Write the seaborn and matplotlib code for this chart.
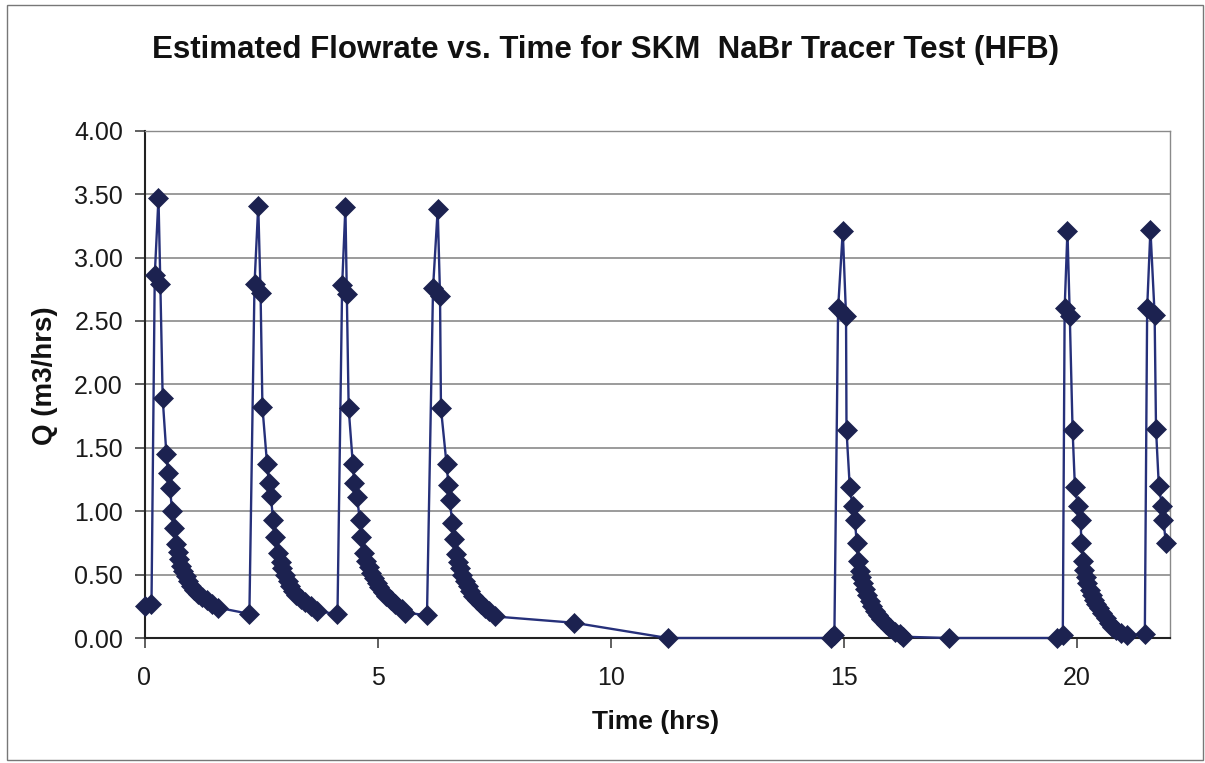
import numpy as np
import pandas as pd
import matplotlib
matplotlib.use("Agg")
import matplotlib.pyplot as plt
from matplotlib.patches import Rectangle
import seaborn as sns

# ---- data ----
pulse1_t = [0.00, 0.15, 0.22, 0.30, 0.34, 0.39, 0.47, 0.51, 0.55, 0.59, 0.63, 0.67, 0.71,
            0.75, 0.79, 0.83, 0.88, 0.94, 1.00, 1.07, 1.15, 1.24, 1.34, 1.45, 1.57]
pulse1_q = [0.25, 0.27, 2.86, 3.47, 2.79, 1.89, 1.45, 1.30, 1.18, 1.00, 0.87, 0.74, 0.68,
            0.62, 0.57, 0.53, 0.49, 0.45, 0.41, 0.38, 0.35, 0.32, 0.30, 0.27, 0.24]

pulse2_t = [2.25, 2.36, 2.44, 2.49, 2.53, 2.63, 2.67, 2.71, 2.76, 2.80, 2.87, 2.92, 2.96,
            3.01, 3.07, 3.13, 3.19, 3.26, 3.35, 3.45, 3.57, 3.70]
pulse2_q = [0.19, 2.79, 3.41, 2.72, 1.82, 1.37, 1.22, 1.12, 0.93, 0.80, 0.67, 0.60, 0.55,
            0.50, 0.45, 0.41, 0.37, 0.34, 0.31, 0.28, 0.25, 0.21]

pulse3_t = [4.14, 4.24, 4.31, 4.34, 4.38, 4.47, 4.50, 4.56, 4.62, 4.65, 4.71, 4.76, 4.81,
            4.86, 4.92, 4.98, 5.04, 5.11, 5.19, 5.28, 5.38, 5.52, 5.58]
pulse3_q = [0.19, 2.78, 3.40, 2.71, 1.81, 1.37, 1.22, 1.11, 0.93, 0.80, 0.67, 0.61, 0.56,
            0.51, 0.47, 0.43, 0.40, 0.36, 0.33, 0.30, 0.27, 0.23, 0.20]

pulse4_t = [6.06, 6.19, 6.29, 6.34, 6.36, 6.48, 6.52, 6.55, 6.60, 6.64, 6.69, 6.73, 6.77,
            6.82, 6.87, 6.93, 6.99, 7.05, 7.13, 7.21, 7.30, 7.40, 7.51, 9.22, 11.22, 14.72]
pulse4_q = [0.18, 2.76, 3.38, 2.70, 1.81, 1.37, 1.21, 1.09, 0.91, 0.78, 0.66, 0.60, 0.55,
            0.50, 0.45, 0.41, 0.37, 0.33, 0.30, 0.27, 0.24, 0.21, 0.17, 0.12, 0.00, 0.00]

pulse5_t = [14.80, 14.88, 14.98, 15.05, 15.06, 15.13, 15.19, 15.24, 15.28, 15.31, 15.35,
            15.38, 15.42, 15.45, 15.50, 15.56, 15.61, 15.67, 15.74, 15.81, 15.90, 15.99,
            16.10, 16.20, 16.28, 17.25, 19.58]
pulse5_q = [0.02, 2.60, 3.21, 2.54, 1.64, 1.19, 1.04, 0.93, 0.75, 0.61, 0.53,
            0.48, 0.43, 0.39, 0.34, 0.29, 0.25, 0.21, 0.18, 0.15, 0.11, 0.08,
            0.05, 0.03, 0.01, 0.00, 0.00]

pulse6_t = [19.70, 19.74, 19.80, 19.85, 19.91, 19.96, 20.03, 20.08, 20.10, 20.13, 20.16,
            20.19, 20.23, 20.28, 20.32, 20.37, 20.42, 20.47, 20.54, 20.62, 20.69, 20.76,
            20.85, 20.94, 21.07]
pulse6_q = [0.02, 2.60, 3.21, 2.54, 1.64, 1.19, 1.04, 0.93, 0.75, 0.61, 0.54,
            0.48, 0.43, 0.38, 0.34, 0.30, 0.27, 0.24, 0.20, 0.16, 0.12, 0.09,
            0.06, 0.04, 0.02]

pulse7_t = [21.46, 21.51, 21.58, 21.67, 21.70, 21.76, 21.83, 21.86, 21.91]
pulse7_q = [0.03, 2.60, 3.22, 2.55, 1.65, 1.20, 1.04, 0.93, 0.75]

x_ticks = [0, 5, 10, 15, 20]
y_ticks = [0.0, 0.5, 1.0, 1.5, 2.0, 2.5, 3.0, 3.5, 4.0]

title = "Estimated Flowrate vs. Time for SKM  NaBr Tracer Test (HFB)"
xlabel = "Time (hrs)"
ylabel = "Q (m3/hrs)"

time_hrs = pulse1_t + pulse2_t + pulse3_t + pulse4_t + pulse5_t + pulse6_t + pulse7_t
flow_q = pulse1_q + pulse2_q + pulse3_q + pulse4_q + pulse5_q + pulse6_q + pulse7_q
df = pd.DataFrame({"t": time_hrs, "q": flow_q})

# ---- style ----
sns.set_style("white")
plt.rcParams["font.family"] = ["Liberation Sans", "DejaVu Sans"]

W, H = 1205, 763
fig = plt.figure(figsize=(W / 100, H / 100), dpi=100)
fig.patch.set_facecolor("white")

left, right, top, bottom = 144.5, 1170, 130.7, 638
ax = fig.add_axes([left / W, 1 - bottom / H, (right - left) / W, (bottom - top) / H])

line_col = "#26307a"
mark_col = "#1c2250"

sns.lineplot(data=df, x="t", y="q", sort=False, estimator=None, ax=ax,
             color=line_col, lw=1.7, marker="D", markersize=10,
             markerfacecolor=mark_col, markeredgecolor=mark_col, markeredgewidth=0.5,
             clip_on=False, zorder=3)

ax.set_xlim(0, 22)
ax.set_ylim(0, 4)
ax.set_xticks(x_ticks)
ax.set_yticks(y_ticks)
ax.set_yticklabels([f"{v:.2f}" for v in y_ticks])
ax.yaxis.grid(True, color="#8a8a8a", lw=1.2)
ax.xaxis.grid(False)
ax.set_axisbelow(True)

for s in ["top", "right"]:
    ax.spines[s].set_color("#8a8a8a")
    ax.spines[s].set_linewidth(1.0)
for s in ["left", "bottom"]:
    ax.spines[s].set_color("#222222")
    ax.spines[s].set_linewidth(1.5)

ax.tick_params(axis="both", direction="out", length=7.5, width=1.2, color="#444444",
               labelsize=18, labelcolor="#1a1a1a")
ax.tick_params(axis="y", pad=8)
ax.tick_params(axis="x", pad=13)
ax.tick_params(bottom=True, left=True)

ax.set_xlabel("")
ax.set_ylabel("")
fig.text(656 / W, 1 - 722 / H, xlabel, ha="center", va="center",
         fontsize=19, fontweight="bold", color="#111111")
fig.text(45 / W, 1 - 376 / H, ylabel, ha="center", va="center", rotation=90,
         fontsize=20, fontweight="bold", color="#111111")
fig.text(606 / W, 1 - 50 / H, title, ha="center", va="center",
         fontsize=22.5, fontweight="bold", color="#111111")

fig.patches.append(Rectangle((7 / W, 1 - 760 / H), (1203 - 7) / W, (760 - 5) / H,
                             transform=fig.transFigure, fill=False,
                             edgecolor="#777777", lw=1.0))

fig.savefig("out.png", dpi=100, facecolor="white")
